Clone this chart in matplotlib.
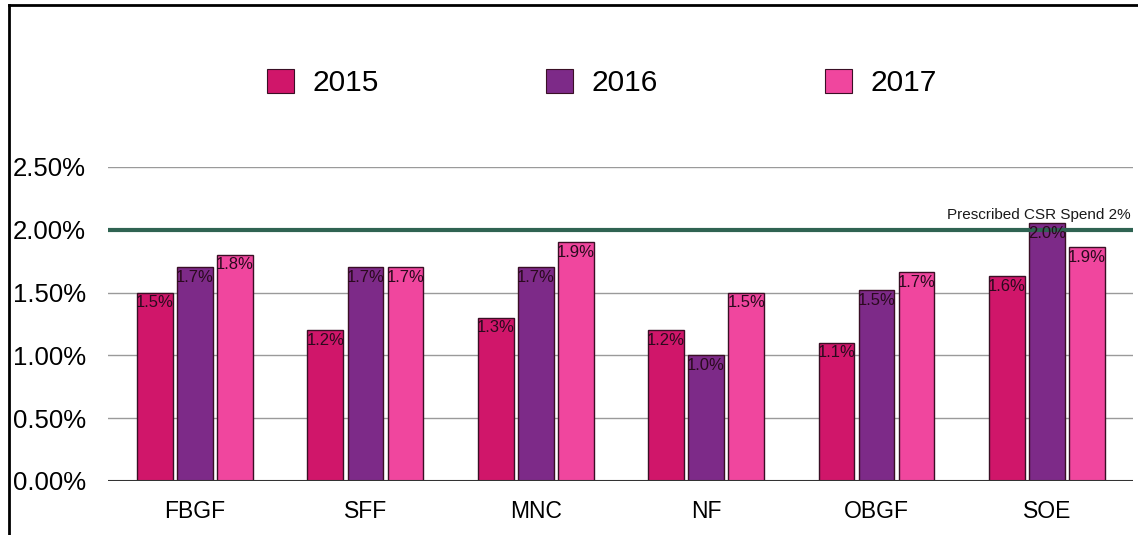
import matplotlib.pyplot as plt
from matplotlib.patches import Patch
from matplotlib.lines import Line2D
import numpy as np

plt.rcParams['font.family'] = ['Liberation Sans', 'DejaVu Sans']

categories = ['FBGF', 'SFF', 'MNC', 'NF', 'OBGF', 'SOE']
years = ['2015', '2016', '2017']
values_2015 = [1.50, 1.20, 1.30, 1.20, 1.10, 1.63]
values_2016 = [1.70, 1.70, 1.70, 1.00, 1.52, 2.05]
values_2017 = [1.80, 1.70, 1.90, 1.50, 1.66, 1.86]
labels_2015 = ['1.5%', '1.2%', '1.3%', '1.2%', '1.1%', '1.6%']
labels_2016 = ['1.7%', '1.7%', '1.7%', '1.0%', '1.5%', '2.0%']
labels_2017 = ['1.8%', '1.7%', '1.9%', '1.5%', '1.7%', '1.9%']
prescribed = 2.0
yticks = [0.0, 0.5, 1.0, 1.5, 2.0, 2.5]

colors = ['#d0166a', '#7d2a88', '#f0469e']
series = [values_2015, values_2016, values_2017]
series_labels = [labels_2015, labels_2016, labels_2017]

fig = plt.figure(figsize=(11.38, 5.35), dpi=100)
ax = fig.add_axes([0.095, 0.101, 0.9006, 0.587])

x = np.arange(len(categories))
width = 0.21
offset = 0.235

# Grid lines behind bars
for t in yticks[1:]:
    ax.axhline(t, color='#9a9a9a', lw=1.0, zorder=0)
ax.axhline(0, color='#333333', lw=1.5, zorder=3)

for i, (vals, labs) in enumerate(zip(series, series_labels)):
    pos = x + (i - 1) * offset
    ax.bar(pos, vals, width, color=colors[i], edgecolor='#3a0f25', lw=1.0, zorder=2)
    for p, v, lab in zip(pos, vals, labs):
        ax.text(p, v - 0.02, lab, ha='center', va='top', fontsize=12,
                color='#2a0a1e', zorder=4)

# Prescribed spend line
ax.axhline(prescribed, color='#2f6352', lw=3, zorder=3)
ax.text(5.49, prescribed + 0.06, 'Prescribed CSR Spend 2%', ha='right', va='bottom',
        fontsize=11, color='#1a1a1a')

ax.set_xlim(-0.51, 5.505)
ax.set_ylim(0, 2.5)
ax.set_xticks(x)
ax.set_xticklabels(categories, fontsize=16.5)
ax.set_yticks(yticks)
ax.set_yticklabels(['{:.2f}%'.format(t) for t in yticks], fontsize=18.5)
ax.tick_params(axis='y', length=0, pad=16)
ax.tick_params(axis='x', length=0, pad=14)
for s in ax.spines.values():
    s.set_visible(False)

handles = [Patch(facecolor=c, edgecolor='#3a0f25', lw=0.8) for c in colors]
fig.legend(handles, years, loc='center', bbox_to_anchor=(0.529, 0.845), ncol=3,
           frameon=False, fontsize=21.5, handlelength=0.9, handleheight=0.9,
           handletextpad=0.62, columnspacing=5.6)

# Image border on left and top
fig.add_artist(Line2D([0.0075, 0.0075], [0, 0.991], color='black', lw=2))
fig.add_artist(Line2D([0.0075, 1.0], [0.991, 0.991], color='black', lw=2))

fig.savefig('out.png', dpi=100)
